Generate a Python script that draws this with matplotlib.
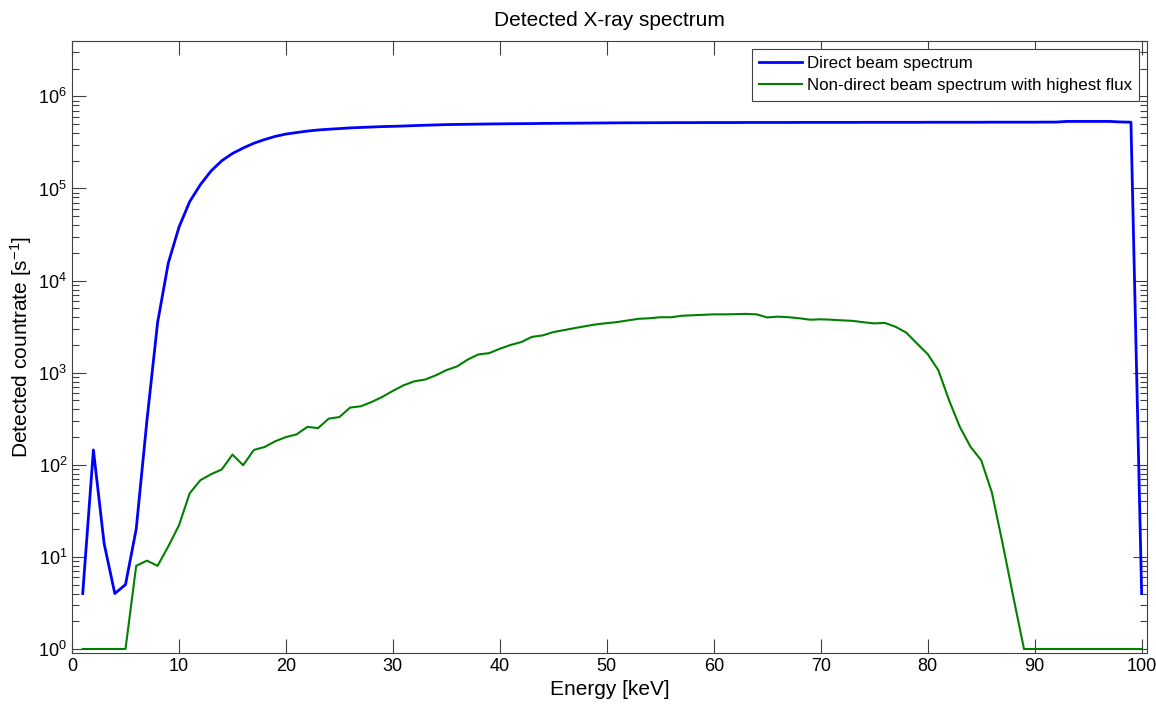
import matplotlib
matplotlib.use("Agg")
import matplotlib.pyplot as plt
from matplotlib.ticker import LogLocator, NullFormatter, MultipleLocator, FixedLocator

plt.rcParams['font.family'] = ['Liberation Sans', 'DejaVu Sans']
plt.rcParams['mathtext.fontset'] = 'custom'
plt.rcParams['mathtext.rm'] = 'Liberation Sans'
plt.rcParams['mathtext.it'] = 'Liberation Sans:italic'

energy = list(range(1, 101))

# direct beam spectrum, counts/s per keV bin
direct = [4, 145, 14, 4, 5, 20, 300, 3500, 15500, 38000,
          72000, 110000, 155000, 200000, 240000, 275000, 310000, 340000, 368000, 390000,
          405000, 420000, 432000, 440000, 447000, 455000, 460000, 465000, 470000, 473000,
          477000, 482000, 486000, 490000, 494000, 496000, 498000, 500000, 502000, 503000,
          505000, 506000, 507000, 509000, 510000, 511000, 512000, 513000, 514000, 515000,
          516000, 517000, 517000, 518000, 518000, 519000, 519000, 519000, 520000, 520000,
          520000, 520000, 521000, 521000, 521000, 521000, 521000, 522000, 522000, 522000,
          522000, 522000, 522000, 523000, 523000, 523000, 523000, 523000, 523000, 524000,
          524000, 524000, 524000, 524000, 524000, 525000, 525000, 525000, 525000, 525000,
          526000, 526000, 535000, 535000, 535000, 535000, 535000, 528000, 525000, 4]

# non-direct beam spectrum (highest flux pixel)
nondirect = [1, 1, 1, 1, 1, 8, 9.1, 8, 13, 22,
             49, 68, 79, 89, 129, 99, 145, 156, 180, 200,
             214, 258, 250, 317, 330, 418, 432, 480, 545, 635,
             730, 806, 842, 935, 1066, 1170, 1390, 1580, 1630, 1820,
             2000, 2150, 2450, 2540, 2760, 2900, 3050, 3200, 3350, 3450,
             3550, 3700, 3850, 3900, 4000, 4000, 4150, 4200, 4250, 4300,
             4300, 4320, 4350, 4300, 3980, 4060, 4000, 3900, 3760, 3800,
             3760, 3700, 3650, 3530, 3430, 3470, 3150, 2720, 2070, 1590,
             1060, 500, 258, 157, 112, 50, 14, 3.7, 1, 1,
             1, 1, 1, 1, 1, 1, 1, 1, 1, 1]

yticks = [1, 10, 100, 1000, 10000, 100000, 1000000]

fig = plt.figure(figsize=(11.56, 7.06), dpi=100)
ax = fig.add_axes([0.0623, 0.0751, 0.9299, 0.8669])

ax.plot(energy, direct, color='#0000ff', lw=2.0, label='Direct beam spectrum')
ax.plot(energy, nondirect, color='#008000', lw=1.5, label='Non-direct beam spectrum with highest flux')

ax.set_yscale('log')
ax.set_xlim(0, 100.5)
ax.set_ylim(0.905, 4e6)
ax.xaxis.set_major_locator(MultipleLocator(10))
ax.yaxis.set_major_locator(FixedLocator(yticks))
ax.yaxis.set_minor_locator(LogLocator(base=10, subs=range(2, 10), numticks=20))
ax.yaxis.set_minor_formatter(NullFormatter())

for s in ax.spines.values():
    s.set_color('#404040')
    s.set_linewidth(0.8)
ax.tick_params(which='both', direction='in', top=True, right=True, colors='#404040',
               labelcolor='black', labelsize=13)
ax.tick_params(which='major', length=10, width=0.8)
ax.tick_params(which='minor', length=5, width=0.8)

ax.set_title('Detected X-ray spectrum', fontsize=15, pad=11)
ax.set_xlabel('Energy [keV]', fontsize=15, labelpad=4)
ax.set_ylabel('Detected countrate [s$^{-1}$]', fontsize=15, labelpad=3)

leg = ax.legend(loc='upper right', fontsize=12.2, handlelength=2.5, handletextpad=0.3,
                borderaxespad=0.45, fancybox=False, framealpha=1, borderpad=0.45,
                labelspacing=0.4)
leg.get_frame().set_edgecolor('#404040')
leg.get_frame().set_linewidth(0.8)

fig.savefig('out.png', dpi=100)
